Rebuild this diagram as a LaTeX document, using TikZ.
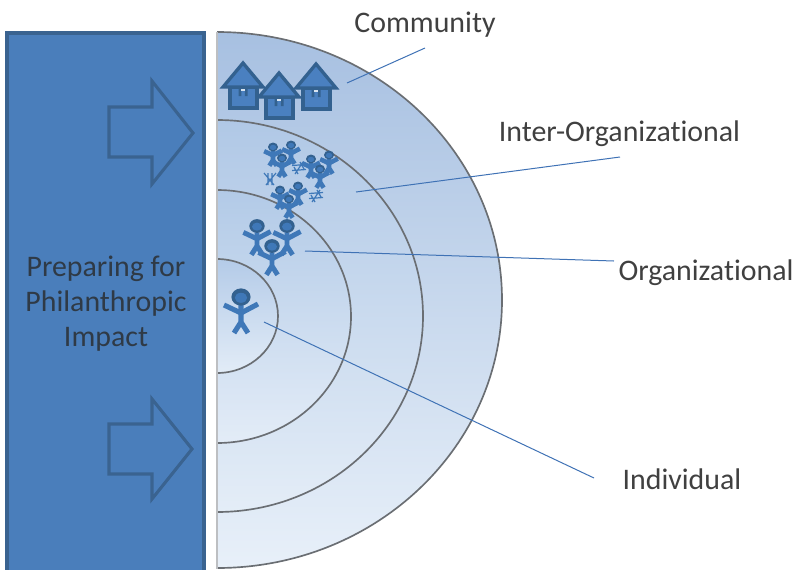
\documentclass[tikz,border=0pt]{standalone}
\usepackage{fontspec}
\setmainfont[Ligatures=NoCommon]{Carlito}
\definecolor{panel}{HTML}{4A7EBB}
\definecolor{paneledge}{HTML}{3A6390}
\definecolor{iconblue}{HTML}{3F78B8}
\definecolor{icondark}{HTML}{33618F}
\definecolor{roofblue}{HTML}{4A80C0}
\definecolor{ringline}{HTML}{6A6E73}
\definecolor{leader}{HTML}{3F72B5}
\definecolor{sideline}{HTML}{BDBFC2}
\definecolor{labelgrey}{HTML}{404040}
\definecolor{paneltext}{HTML}{2F3A46}
\tikzset{
 panelbox/.style={fill=panel,draw=paneledge,line width=2.4pt},
 blockarrow/.style={draw=paneledge,line width=2.3pt,line join=miter,miter limit=10},
 ringline/.style={draw=ringline,line width=1.25pt},
 leaderline/.style={draw=leader,line width=0.75pt},
 lab/.style={font=\fontsize{22.4}{27}\selectfont,text=labelgrey,inner sep=0pt},
 paneltxt/.style={font=\fontsize{22.4}{26.5}\selectfont,text=paneltext,align=center,inner sep=0pt},
 housepart/.style={fill=roofblue,draw=icondark,line width=2.5pt,line join=miter},
}
% person: head centre x,y, scale, limb width
\newcommand{\pers}[4]{\begin{scope}[shift={(#1,#2)}]
 \draw[iconblue,line width=#4] (0,#3*8) -- (0,#3*25) -- (-#3*7,#3*36) (0,#3*25) -- (#3*7,#3*36);
 \draw[iconblue,line width=#4,line join=round] (-#3*17,#3*8) -- (0,#3*16) -- (#3*17,#3*7);
 \fill[icondark] (0,0) ellipse ({#3*9.6} and {#3*8.6});
 \fill[iconblue] (0,#3*0.8) ellipse ({#3*6.2} and {#3*5});
\end{scope}}
% house: apex x,y
\newcommand{\house}[2]{\begin{scope}[shift={(#1,#2)}]
 \draw[housepart] (-13,24) rectangle (14,45);
 \draw[housepart] (0,0) -- (20,24) -- (-20,24) -- cycle;
 \fill[icondark] (-4.5,25.5) rectangle (-1.6,33) (1.8,25.5) rectangle (4.5,33);
 \fill[white!80!iconblue] (-2,25.5) rectangle (2,28);
\end{scope}}
\newcommand{\xmark}[2]{\begin{scope}[shift={(#1,#2)}]
 \draw[iconblue,line width=.9pt] (-6,-6)--(4,6) (-2,-6)--(-2,6) (6,-6)--(-4,6) (2,-6)--(2,6);
\end{scope}}
\newcommand{\zmark}[2]{\begin{scope}[shift={(#1,#2)}]
 \draw[iconblue,line width=.9pt] (-7,-2.5)--(7,-3.5) (-7,2.5)--(7,1.5) (-4,6)--(4,-6) (-1,6)--(-5,-1) (1,-6)--(5,1);
\end{scope}}
\begin{document}
\begin{tikzpicture}[x=0.75pt,y=-0.75pt]
\useasboundingbox (0,0) rectangle (796,569);
\draw[panelbox] (7,33) rectangle (204,575);
% arrows
\draw[blockarrow] (109,107) -- (152,107) -- (152,81) -- (193,133) -- (152,184) -- (152,157) -- (109,157) -- cycle;
\draw[blockarrow] (109,424) -- (152,424) -- (152,399) -- (192,449) -- (152,499) -- (152,474) -- (109,474) -- cycle;
% rings
\def\uu{0.75pt}
\shade[top color={rgb,255:red,167;green,192;blue,225},bottom color={rgb,255:red,232;green,240;blue,249}] (217,568) arc[start angle=-90,end angle=90,x radius=285*\uu,y radius=268*\uu] -- cycle;
\draw[ringline] (217,568) arc[start angle=-90,end angle=90,x radius=285*\uu,y radius=268*\uu];
\shade[top color={rgb,255:red,176;green,200;blue,230},bottom color={rgb,255:red,228;green,237;blue,247}] (217,512) arc[start angle=-90,end angle=90,x radius=206*\uu,y radius=196*\uu] -- cycle;
\draw[ringline] (217,512) arc[start angle=-90,end angle=90,x radius=206*\uu,y radius=196*\uu];
\shade[top color={rgb,255:red,178;green,202;blue,231},bottom color={rgb,255:red,227;green,236;blue,247}] (217,443) arc[start angle=-90,end angle=90,x radius=134*\uu,y radius=126.5*\uu] -- cycle;
\draw[ringline] (217,443) arc[start angle=-90,end angle=90,x radius=134*\uu,y radius=126.5*\uu];
\shade[top color={rgb,255:red,180;green,203;blue,232},bottom color={rgb,255:red,226;green,236;blue,247}] (217,373) arc[start angle=-90,end angle=90,x radius=61*\uu,y radius=57*\uu] -- cycle;
\draw[ringline] (217,373) arc[start angle=-90,end angle=90,x radius=61*\uu,y radius=57*\uu];
\draw[sideline,line width=1.6pt] (217,32) -- (217,569);
% houses
\house{243}{63}
\house{279}{73}
\house{316}{64}
% small people
\pers{273}{147}{.52}{3.4pt}
\pers{291}{145}{.52}{3.4pt}
\pers{282}{158}{.52}{3.4pt}
\pers{311}{159}{.52}{3.4pt}
\pers{329}{155}{.52}{3.4pt}
\pers{320}{169}{.52}{3.4pt}
\pers{280}{190}{.52}{3.4pt}
\pers{298}{186}{.52}{3.4pt}
\pers{289}{199}{.52}{3.4pt}
\xmark{270}{179}
\zmark{299}{168}
\zmark{316}{196}
% mid people
\pers{257}{226}{.8}{3.7pt}
\pers{287}{226}{.8}{3.7pt}
\pers{272}{246}{.8}{3.7pt}
% individual
\pers{241}{297}{1}{3.8pt}
% labels
\node[paneltxt] (impact) at (106,303.5) {Preparing for\\Philanthropic\\Impact};
\node[lab] (community) at (425,25) {Community};
\node[lab] (inter) at (619.5,133.5) {Inter-Organizational};
\node[lab] (org) at (706,272.5) {Organizational};
\node[lab] (indiv) at (682,479.5) {Individual};
% leaders
\coordinate (communityend) at (425,48);
\coordinate (communitytip) at (347,83);
\coordinate (interend) at (620,157);
\coordinate (intertip) at (356,192);
\coordinate (orgend) at (614,261);
\coordinate (orgtip) at (305,251);
\coordinate (indivend) at (594,478);
\coordinate (indivtip) at (264,322);
\draw[leaderline] (communityend) -- (communitytip);
\draw[leaderline] (interend) -- (intertip);
\draw[leaderline] (orgend) -- (orgtip);
\draw[leaderline] (indivend) -- (indivtip);
\end{tikzpicture}
\end{document}
